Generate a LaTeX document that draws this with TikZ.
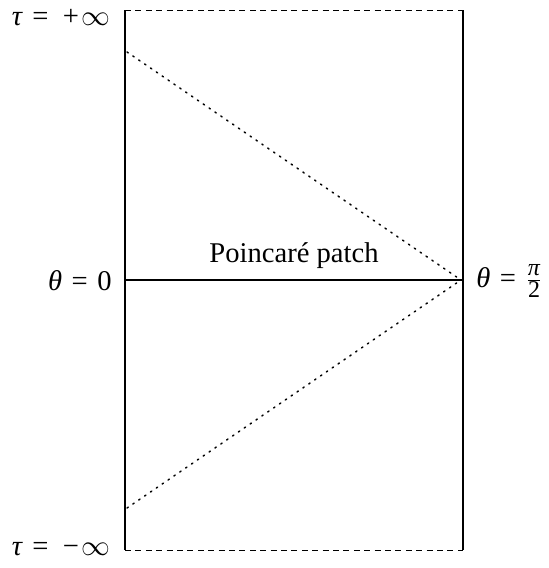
\documentclass[tikz,border=0pt]{standalone}
\usepackage{fontspec}
\setmainfont{Liberation Serif}
\newcommand{\gp}{\hspace{0.33em}}
\newcommand{\gq}{\hspace{0.5em}}
\newcommand{\bigInf}{{\fontsize{13.5pt}{14pt}\selectfont$\infty$}}
\newcommand{\fr}[1]{\mbox{\fontsize{12pt}{13pt}\selectfont #1}}
\begin{document}
\begin{tikzpicture}[x=0.5pt,y=-0.5pt,
  lbl/.style={font=\fontsize{14.3pt}{17pt}\selectfont, inner sep=0pt},
  edge/.style={line width=1pt},
  infline/.style={line width=0.5pt, dash pattern=on 3pt off 2.2pt},
  lightline/.style={line width=0.75pt, dash pattern=on 0.75pt off 2.8pt, line cap=round}]
\useasboundingbox (0,0) rectangle (548,568);
\coordinate (tl) at (125,10);
\coordinate (tr) at (463,10);
\coordinate (bl) at (125,550);
\coordinate (br) at (463,550);
\coordinate (ml) at (125,280);
\coordinate (mr) at (463,280);
\coordinate (ut) at (127,52);
\coordinate (lt) at (127,508);
\coordinate (tip) at (461,280);
\draw[edge] (tl) -- (bl);
\draw[edge] (tr) -- (br);
\draw[edge] (ml) -- (mr);
\draw[infline] (tl) -- (tr);
\draw[infline] (bl) -- (br);
\draw[lightline] (ut) -- (tip);
\draw[lightline] (lt) -- (tip);
\node[lbl, anchor=east] (ttop) at (111,18) {\textit{τ}\gp=\gq+\hspace{0.1em}\bigInf};
\node[lbl, anchor=east] (tbot) at (111,549) {\textit{τ}\gp=\gq−\hspace{0.1em}\bigInf};
\node[lbl, anchor=east] (th0) at (112,281) {\textit{θ}\gp=\gp0};
\node[lbl, anchor=west] (thpi) at (476,281) {\textit{θ}\gp=\gp$\frac{\fr{\textit{π}}}{\fr{2}}$};
\node[lbl] (pp) at (294,256) {Poincaré patch};
\end{tikzpicture}
\end{document}
